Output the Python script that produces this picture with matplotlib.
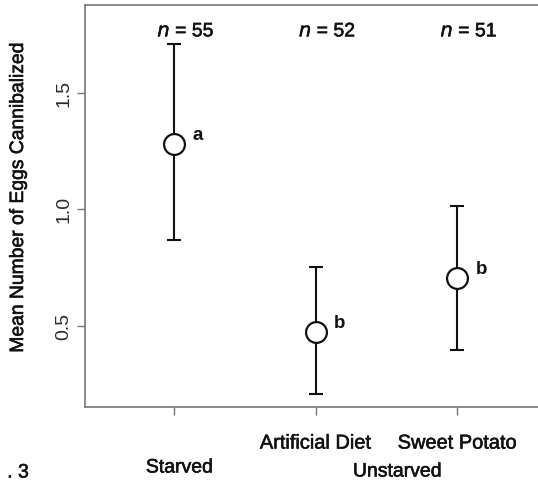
import matplotlib
matplotlib.use("Agg")
import matplotlib.pyplot as plt
import matplotlib.patheffects as pe
from matplotlib.transforms import blended_transform_factory

plt.rcParams['font.family'] = ['Liberation Sans', 'DejaVu Sans']

groups = ["Starved", "Artificial Diet", "Sweet Potato"]
means = [1.283, 0.474, 0.706]
lower = [0.867, 0.208, 0.397]
upper = [1.712, 0.753, 1.013]
n_labels = ["55", "52", "51"]
letters = ["a", "b", "b"]
tick_labels = ["", "Artificial Diet", "Sweet Potato"]

x = [1, 2, 3]
fig = plt.figure(figsize=(5.38, 4.83), dpi=100)
ax = fig.add_axes([0.158, 0.157, 0.842, 0.833])

txt = '#111111'
bold_fx = [pe.withStroke(linewidth=0.4, foreground=txt)]

yerr = [[m - l for m, l in zip(means, lower)], [u - m for m, u in zip(means, upper)]]
ax.errorbar(x, means, yerr=yerr, fmt='none', ecolor='#111111', elinewidth=1.5,
            capsize=5, capthick=1.5, zorder=2)
ax.plot(x, means, 'o', ms=15, mfc='white', mec='#111111', mew=1.6, zorder=3)

for xi, m, lt, n in zip(x, means, letters, n_labels):
    ax.text(xi + 0.17, m + 0.035, lt, fontsize=13.5, fontweight='bold', ha='center', va='center', color=txt)
    ax.text(xi + 0.085, 1.762, r"$\mathit{n}$ = " + n, fontsize=14, ha='center', va='center',
            color=txt, path_effects=bold_fx)

ax.set_xlim(0.371, 3.572)
ax.set_ylim(0.152, 1.878)
ax.set_yticks([0.5, 1.0, 1.5])
ax.set_yticklabels(["0.5", "1.0", "1.5"], rotation=90, va='center', fontsize=14, color='#2a2a2a')
ax.set_xticks(x)
ax.set_xticklabels(tick_labels, fontsize=14.4, color=txt)
for t in ax.get_xticklabels():
    t.set_path_effects(bold_fx)
ax.tick_params(axis='x', length=6, width=1, color='#777777', pad=13)
ax.tick_params(axis='y', length=6, width=1, color='#777777', pad=3)
ax.set_ylabel("Mean Number of Eggs Cannibalized", fontsize=13.9, color=txt,
              path_effects=bold_fx)
ax.yaxis.set_label_coords(-0.128, 0.52)

for s in ['left', 'bottom', 'top']:
    ax.spines[s].set_color('#777777')
    ax.spines[s].set_linewidth(1.2)
ax.spines['right'].set_visible(False)

trans = blended_transform_factory(ax.transData, fig.transFigure)
ax.text(1.04, 1 - 468 / 483, "Starved", transform=trans, fontsize=14, ha='center', va='center',
        color=txt, path_effects=bold_fx)
ax.text(2.58, 1 - 472 / 483, "Unstarved", transform=trans, fontsize=14, ha='center', va='center',
        color=txt, path_effects=bold_fx)
fig.text(18 / 538, 1 - 473 / 483, ". 3", fontsize=14, ha='center', va='center', color=txt,
         path_effects=bold_fx)

fig.savefig("out.png", dpi=100)
